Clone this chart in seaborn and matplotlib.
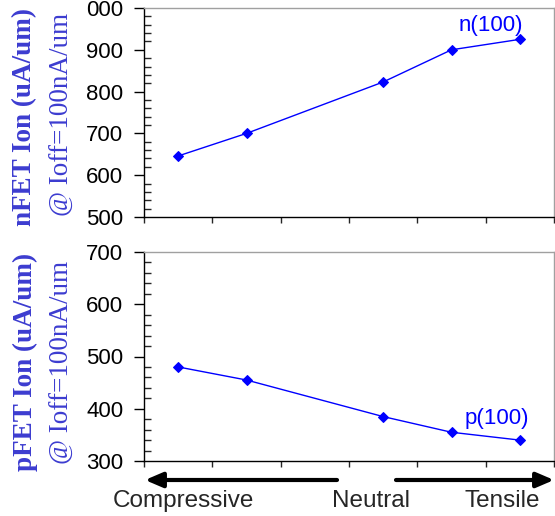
import matplotlib
matplotlib.use("Agg")
import matplotlib.pyplot as plt
import seaborn as sns
import numpy as np

# strain positions (category slots 0..5, slot 2 empty)
x_pos = [0, 1, 3, 4, 5]
n_ion = [646, 700, 823, 900, 925]
p_ion = [480, 455, 385, 355, 340]

n_ticks = [500, 600, 700, 800, 900, 1000]
n_tick_labels = ["500", "600", "700", "800", "900", "000"]
p_ticks = [300, 400, 500, 600, 700]

sns.set_style("ticks")
plt.rcParams["font.family"] = ["Liberation Sans", "DejaVu Sans"]

fig = plt.figure(figsize=(5.55, 5.16), dpi=100)
ax1 = fig.add_axes([144 / 555, 1 - 217 / 516, 410 / 555, 209 / 516])
ax2 = fig.add_axes([144 / 555, 1 - 461 / 516, 410 / 555, 209 / 516])

blue = "#0000ff"
lab_blue = "#3c3cd0"


def style(ax, ymin, ymax, ticks, labels):
    ax.set_xlim(-0.5, 5.5)
    ax.set_ylim(ymin, ymax)
    ax.set_xticks(np.arange(-0.5, 5.6, 1))
    ax.set_xticklabels([])
    ax.set_yticks(ticks)
    ax.set_yticklabels(labels, fontsize=16)
    ax.set_yticks(np.arange(ymin, ymax + 1, 20), minor=True)
    ax.tick_params(axis="y", which="major", direction="out", length=7, width=1, pad=8, colors="black")
    ax.tick_params(axis="y", which="minor", direction="in", length=5, width=1)
    ax.tick_params(axis="x", which="major", direction="out", length=4, width=1)
    for s in ["top", "right"]:
        ax.spines[s].set_visible(True)
        ax.spines[s].set_color("#a0a0a0")
        ax.spines[s].set_linewidth(1)
    for s in ["left", "bottom"]:
        ax.spines[s].set_color("black")
        ax.spines[s].set_linewidth(1)
    ax.set_xlabel("")
    ax.set_ylabel("")


sns.lineplot(x=x_pos, y=n_ion, ax=ax1, color=blue, lw=1, marker="D",
             markersize=5, markeredgecolor=blue)
sns.lineplot(x=x_pos, y=p_ion, ax=ax2, color=blue, lw=1, marker="D",
             markersize=5, markeredgecolor=blue)

style(ax1, 500, 1000, n_ticks, n_tick_labels)
style(ax2, 300, 700, p_ticks, [str(t) for t in p_ticks])

ax1.text(4.58, 957, "n(100)", color=blue, fontsize=16, ha="center", va="center")
ax2.text(4.67, 382, "p(100)", color=blue, fontsize=16, ha="center", va="center")

# y labels (two lines: bold + regular serif)
serif = ["Liberation Serif", "DejaVu Serif"]
fig.text(25 / 555, 1 - 117 / 516, "nFET Ion (uA/um)", rotation=90, ha="center", va="center",
         fontsize=19.5, fontweight="bold", family=serif, color=lab_blue)
fig.text(62 / 555, 1 - 114 / 516, "@ Ioff=100nA/um", rotation=90, ha="center", va="center",
         fontsize=19.5, family=serif, color=lab_blue)
fig.text(25 / 555, 1 - 362 / 516, "pFET Ion (uA/um)", rotation=90, ha="center", va="center",
         fontsize=19.5, fontweight="bold", family=serif, color=lab_blue)
fig.text(62 / 555, 1 - 362 / 516, "@ Ioff=100nA/um", rotation=90, ha="center", va="center",
         fontsize=19.5, family=serif, color=lab_blue)

# strain direction arrows
arrow = dict(arrowstyle="-|>,head_length=0.7,head_width=0.3", lw=3, color="black",
             mutation_scale=15, shrinkA=0, shrinkB=0)
ax2.annotate("", xy=(145 / 555, 36 / 516), xytext=(337 / 555, 36 / 516),
             xycoords="figure fraction", textcoords="figure fraction", arrowprops=arrow,
             annotation_clip=False)
ax2.annotate("", xy=(554 / 555, 36 / 516), xytext=(396 / 555, 36 / 516),
             xycoords="figure fraction", textcoords="figure fraction", arrowprops=arrow,
             annotation_clip=False)

fig.text(183 / 555, 1 - 501 / 516, "Compressive", ha="center", va="center", fontsize=17.5)
fig.text(371 / 555, 1 - 501 / 516, "Neutral", ha="center", va="center", fontsize=17.5)
fig.text(502 / 555, 1 - 501 / 516, "Tensile", ha="center", va="center", fontsize=17.5)

fig.savefig("out.png", dpi=100)
